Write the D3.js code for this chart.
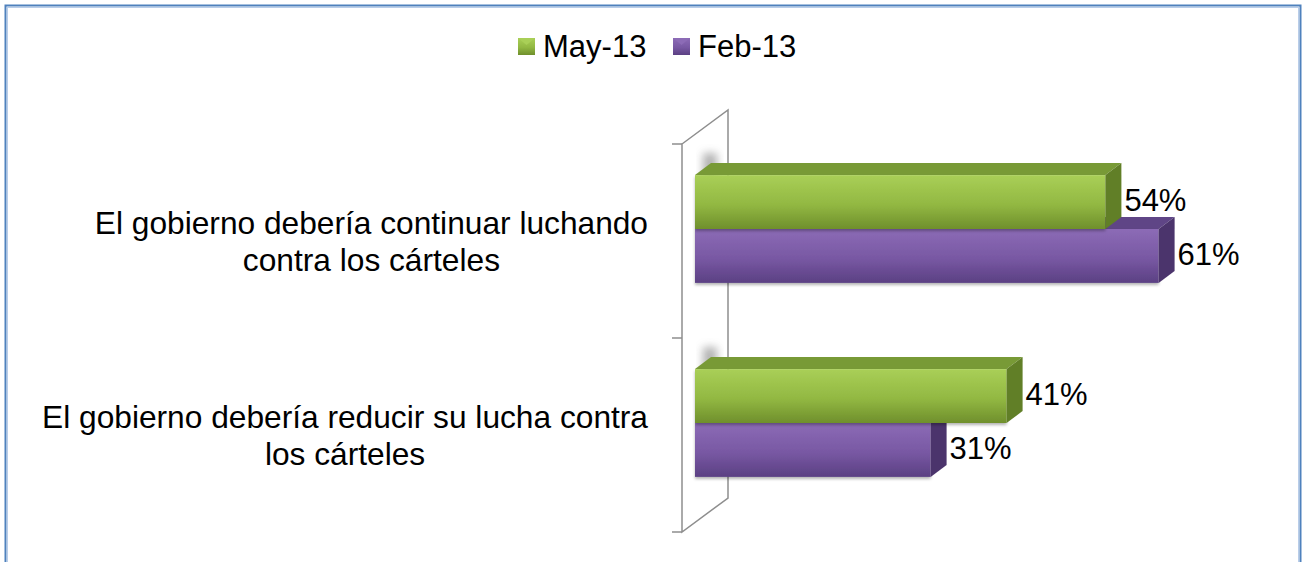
<!doctype html>
<html>
<head>
    <meta charset="utf-8">
    <script src="https://d3js.org/d3.v7.min.js"></script>
</head>
<style>
    body { margin: 0; background: #fff; }
    svg text {
        font-family: Arial, "Liberation Sans", sans-serif;
        fill: #000;
    }
</style>
<body>
    <div id="chart"></div>
    <script>
        // chart data
        var categories = ["El gobierno debería continuar luchando contra los cárteles",
                          "El gobierno debería reducir su lucha contra los cárteles"];
        var categoryLines = [["El gobierno debería continuar luchando", "contra los cárteles"],
                             ["El gobierno debería reducir su lucha contra", "los cárteles"]];
        var seriesNames = ["May-13", "Feb-13"];
        var may13 = [0.54, 0.41];
        var feb13 = [0.61, 0.31];

        var width = 1306,
            height = 562,
            fontSize = 31,
            catFontSize = 31.7;

        var colors = {
            "May-13": { light: "#a9cf57", mid: "#92b842", dark: "#6f8f2c", top: "#789a36", side: "#617f27" },
            "Feb-13": { light: "#8c6bb6", mid: "#7858a3", dark: "#5b4083", top: "#5f4586", side: "#4b346c" }
        };

        var svg = d3.select("#chart")
                    .append("svg")
                    .attr("width", width)
                    .attr("height", height);

        var defs = svg.append("defs");
        seriesNames.forEach(function(s, i) {
            var g = defs.append("linearGradient")
                        .attr("id", "grad" + i)
                        .attr("x1", 0).attr("y1", 0).attr("x2", 0).attr("y2", 1);
            g.append("stop").attr("offset", "0%").attr("stop-color", colors[s].light);
            g.append("stop").attr("offset", "55%").attr("stop-color", colors[s].mid);
            g.append("stop").attr("offset", "100%").attr("stop-color", colors[s].dark);
        });
        var blur = defs.append("filter").attr("id", "blur")
                       .attr("x", "-50%").attr("y", "-20%").attr("width", "200%").attr("height", "140%");
        blur.append("feGaussianBlur").attr("stdDeviation", 4);
        var drop = defs.append("filter").attr("id", "drop")
                       .attr("x", "-5%").attr("y", "-10%").attr("width", "110%").attr("height", "130%");
        drop.append("feDropShadow").attr("dx", 0).attr("dy", 2).attr("stdDeviation", 1.5)
            .attr("flood-color", "#000").attr("flood-opacity", 0.3);

        // chart frame
        svg.append("rect")
           .attr("x", 5.5).attr("y", 5.5)
           .attr("width", 1295).attr("height", 600)
           .attr("fill", "none")
           .attr("stroke", "#4f81bd")
           .attr("stroke-width", 2);
        svg.append("rect")
           .attr("x", 7.5).attr("y", 7.5)
           .attr("width", 1291).attr("height", 600)
           .attr("fill", "none")
           .attr("stroke", "#b9cde9")
           .attr("stroke-width", 1);

        // scales
        var axisX = 682,
            wallDx = 46, wallDy = -34,
            barOx = 13, barOy = -12,
            depthX = 16, depthY = -12;

        var y = d3.scaleBand()
                  .domain(categories)
                  .range([144, 532]);

        var ySeries = d3.scaleBand()
                        .domain(seriesNames)
                        .range([0, y.bandwidth()])
                        .paddingOuter(0.8);

        var x = d3.scaleLinear()
                  .domain([0, 0.7])
                  .range([axisX + barOx, axisX + barOx + 0.7 * 760]);

        // 3D wall
        var wall = svg.append("g")
                      .attr("fill", "none")
                      .attr("stroke", "#8e8e8e")
                      .attr("stroke-width", 1.5);
        var y0 = y.range()[0], y1 = y.range()[1];
        wall.append("path")
            .attr("d", "M" + axisX + "," + y0 + "L" + (axisX + wallDx) + "," + (y0 + wallDy) +
                       "L" + (axisX + wallDx) + "," + (y1 + wallDy) + "L" + axisX + "," + y1 + "Z");
        var ticks = categories.map(function(c) { return y(c); }).concat([y1]);
        wall.selectAll("line.tick")
            .data(ticks)
            .enter()
            .append("line")
            .attr("class", "tick")
            .attr("x1", axisX - 10)
            .attr("x2", axisX)
            .attr("y1", function(d) { return d; })
            .attr("y2", function(d) { return d; });

        // bars
        var rows = categories.map(function(c, i) {
            return { cat: c, values: [
                { series: "Feb-13", idx: 1, value: feb13[i] },
                { series: "May-13", idx: 0, value: may13[i] }
            ] };
        });

        var groups = svg.selectAll("g.cat")
                        .data(rows)
                        .enter()
                        .append("g")
                        .attr("class", "cat")
                        .attr("transform", function(d) {
                            return "translate(0," + (y(d.cat) + barOy) + ")";
                        });

        // soft shadow on the wall, peeking out above the bars' top-left corner
        groups.append("rect")
              .attr("x", x(0) + 8)
              .attr("y", ySeries("May-13") - 22)
              .attr("width", 14)
              .attr("height", ySeries.bandwidth() * 2 + 10)
              .attr("fill", "#666")
              .attr("opacity", 0.5)
              .attr("filter", "url(#blur)");

        var bars = groups.selectAll("g.bar")
                         .data(function(d) { return d.values; })
                         .enter()
                         .append("g")
                         .attr("class", "bar");

        bars.append("path")
            .attr("fill", function(d) { return colors[d.series].top; })
            .attr("d", function(d) {
                var xa = x(0), xb = x(d.value), t = ySeries(d.series);
                return "M" + xa + "," + t + "L" + (xa + depthX) + "," + (t + depthY) +
                       "L" + (xb + depthX) + "," + (t + depthY) + "L" + xb + "," + t + "Z";
            });
        bars.append("rect")
            .attr("filter", "url(#drop)")
            .attr("x", x(0))
            .attr("y", function(d) { return ySeries(d.series); })
            .attr("width", function(d) { return x(d.value) - x(0); })
            .attr("height", ySeries.bandwidth())
            .attr("fill", function(d) { return "url(#grad" + d.idx + ")"; });
        bars.append("path")
            .attr("fill", function(d) { return colors[d.series].side; })
            .attr("d", function(d) {
                var xb = x(d.value), t = ySeries(d.series), b = t + ySeries.bandwidth();
                return "M" + xb + "," + t + "L" + (xb + depthX) + "," + (t + depthY) +
                       "L" + (xb + depthX) + "," + (b + depthY) + "L" + xb + "," + b + "Z";
            });

        // value labels
        bars.append("text")
            .attr("x", function(d) { return x(d.value) + depthX + 3; })
            .attr("y", function(d) { return ySeries(d.series) + ySeries.bandwidth() / 2 - 2; })
            .attr("dy", "0.35em")
            .attr("font-size", fontSize)
            .text(function(d) { return d3.format(".0%")(d.value); });

        // category labels
        var labelRight = 648;
        categories.forEach(function(c, i) {
            var t = svg.append("text")
                       .attr("font-size", catFontSize)
                       .attr("text-anchor", "middle");
            var spans = t.selectAll("tspan")
                         .data(categoryLines[i])
                         .enter()
                         .append("tspan")
                         .attr("y", function(d, j) { return y(c) + y.bandwidth() / 2 - 7.5 + j * 37; })
                         .text(function(d) { return d; });
            var maxW = d3.max(spans.nodes(), function(n) { return n.getComputedTextLength(); });
            spans.attr("x", labelRight - maxW / 2);
        });

        // legend
        var legendX = [518, 673];
        var legend = svg.selectAll("g.legend")
                        .data(seriesNames)
                        .enter()
                        .append("g")
                        .attr("class", "legend")
                        .attr("transform", function(d, i) { return "translate(" + legendX[i] + ",38)"; });
        legend.append("rect")
              .attr("width", 17)
              .attr("height", 17)
              .attr("fill", function(d, i) { return "url(#grad" + i + ")"; });
        legend.append("path")
              .attr("d", "M0,0L8.5,7L17,0Z")
              .attr("fill", function(d) { return colors[d].light; });
        legend.append("text")
              .attr("x", 25)
              .attr("y", 19)
              .attr("font-size", fontSize)
              .text(function(d) { return d; });
    </script>
</body>
</html>
